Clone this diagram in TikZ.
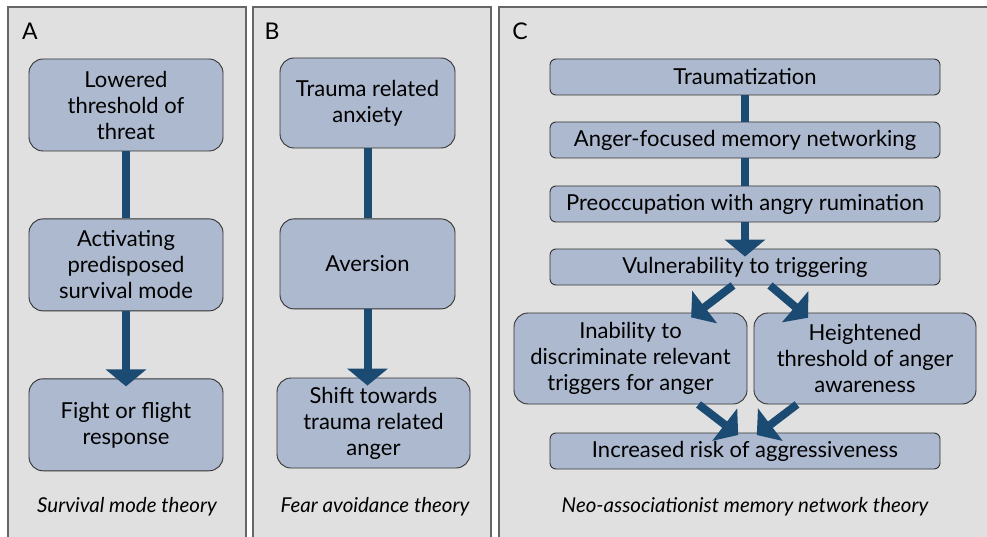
\documentclass[tikz,border=0pt]{standalone}
\usepackage{fontspec}
\setmainfont{Lato}
\usetikzlibrary{arrows.meta, positioning, calc}

\definecolor{panelgray}{HTML}{E0E0E0}
\definecolor{boxblue}{HTML}{ADB9CF}
\definecolor{arrowblue}{HTML}{1B4A72}

\begin{document}
\begin{tikzpicture}[
    x=1pt, y=-1pt,
    node distance=67pt,
    every node/.style={font=\fontsize{22}{26}\selectfont},
    panel/.style={draw=black!60, line width=1.3pt, fill=panelgray},
    box/.style={draw=black!80, line width=0.9pt, fill=boxblue, rounded corners=14pt,
                align=center, minimum width=194pt, minimum height=92pt, inner sep=2pt},
    slimbox/.style={draw=black!80, line width=0.9pt, fill=boxblue, rounded corners=6pt,
                align=center, minimum width=390pt, minimum height=36pt, inner sep=2pt},
    tag/.style={font=\fontsize{23}{26}\selectfont},
    caption/.style={font=\fontsize{20.5}{24}\selectfont\itshape},
    link/.style={draw=arrowblue, line width=8pt},
    arrow/.style={draw=arrowblue, line width=8pt,
                  -{Triangle[width=40pt, length=17pt]}, shorten >=-8pt}
]

\clip (0,0) rectangle (987,537);

% Panels
\draw[panel] (8,7) rectangle (246,560);
\draw[panel] (253,7) rectangle (491,560);
\draw[panel] (499,7) rectangle (1000,560);

\node[tag] (tagA) at (30,31) {A};
\node[tag] (tagB) at (272,31) {B};
\node[tag] (tagC) at (520,31) {C};

% A: survival mode
\node[box] (threshold) at (126,105) {Lowered\\threshold of\\threat};
\node[box, below=of threshold] (survival) {Activating\\predisposed\\survival mode};
\node[box, below=of survival] (fight) {Fight or flight\\response};
\node[caption] (capA) at (127,507) {Survival mode theory};

\draw[link] (threshold) -- (survival);
\draw[arrow] (survival) -- (fight);

% B: fear avoidance
\node[box, minimum width=175pt, minimum height=90pt] (anxiety) at (367.5,103) {Trauma related\\anxiety};
\node[box, minimum width=175pt, minimum height=90pt, below=70pt of anxiety] (aversion) {Aversion};
\node[box, minimum width=193pt, minimum height=90pt] (shift) at (373.5,423) {Shift towards\\trauma related\\anger};
\node[caption] (capB) at (375,507) {Fear avoidance theory};

\draw[link] (anxiety) -- (aversion);
\draw[arrow] (aversion) -- (shift.north -| aversion);

% C: neo-associationist memory network
\node[slimbox] (trauma) at (745,77) {Traumatization};
\node[slimbox] (memory) at (745,140) {Anger-focused memory networking};
\node[slimbox] (rumination) at (745,204) {Preoccupation with angry rumination};
\node[slimbox] (vulnerable) at (745,267) {Vulnerability to triggering};
\node[box, minimum width=233pt, minimum height=91pt] (discriminate) at (630.5,358.5) {Inability to\\discriminate relevant\\triggers for anger};
\node[box, minimum width=222pt, minimum height=91pt] (awareness) at (865,358.5) {Heightened\\threshold of anger\\awareness};
\node[slimbox] (aggression) at (745,451) {Increased risk of aggressiveness};
\node[caption] (capC) at (745,507) {Neo-associationist memory network theory};

\draw[link] (trauma) -- (memory);
\draw[link] (memory) -- (rumination);
\draw[arrow] (rumination) -- (vulnerable);
\draw[arrow] ([xshift=-12pt]vulnerable.south) -- ([xshift=67pt]discriminate.north);
\draw[arrow] ([xshift=25pt]vulnerable.south) -- ([xshift=-63pt]awareness.north);
\draw[arrow, shorten >=-4pt] ([xshift=68pt]discriminate.south) -- ([xshift=-10pt]aggression.north);
\draw[arrow, shorten >=-4pt] ([xshift=-68pt]awareness.south) -- ([xshift=15pt]aggression.north);

\end{tikzpicture}
\end{document}
